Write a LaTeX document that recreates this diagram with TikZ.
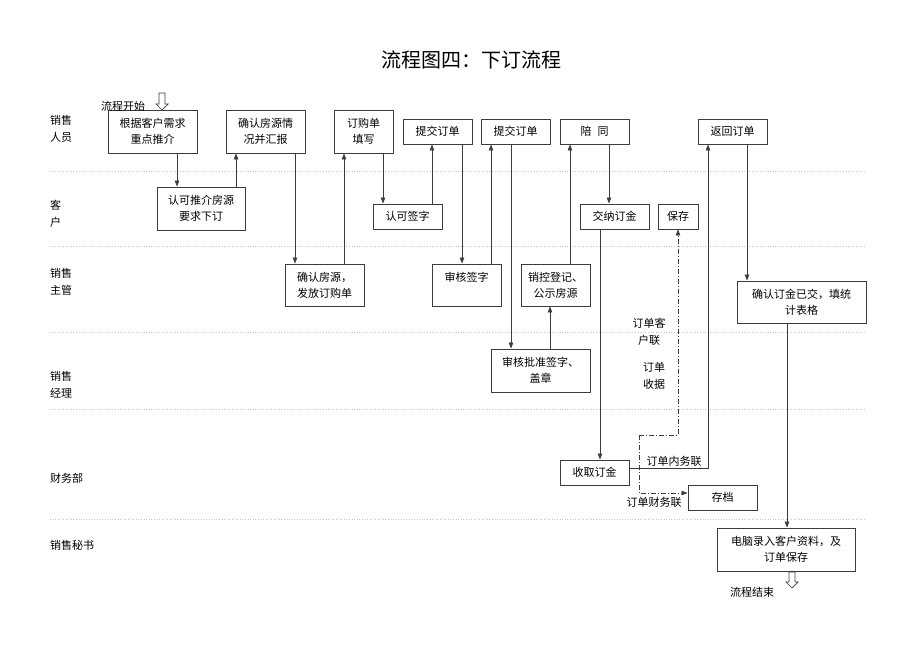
\documentclass[tikz,border=0pt]{standalone}
\usepackage{fontspec}
\setmainfont{Noto Sans CJK SC}
\usetikzlibrary{arrows.meta}
\definecolor{BoxGray}{RGB}{60,60,60}
\definecolor{LaneGray}{RGB}{200,200,200}
\tikzstyle{box} = [rectangle, draw=BoxGray, line width=0.9pt, inner sep=1pt, align=center, font=\fontsize{11}{16}\selectfont]
\tikzstyle{arrow} = [draw=BoxGray, line width=0.7pt, -{Triangle[length=6pt,width=4.5pt]}]
\tikzstyle{copyline} = [arrow, dash pattern=on 5pt off 2pt on 1pt off 2pt]
\tikzstyle{lane} = [draw=LaneGray, line width=0.6pt, dotted]
\tikzstyle{note} = [inner sep=0pt, align=center, font=\fontsize{11}{17}\selectfont]
\tikzstyle{hollow} = [draw=BoxGray, line width=0.7pt, fill=white]

\begin{document}
\begin{tikzpicture}[x=1pt, y=-1pt]
\useasboundingbox (0,0) rectangle (920,651);

% Titre
\node (title) at (471,60) [font=\fontsize{20}{24}\selectfont] {流程图四：下订流程};

% Couloirs
\draw [lane] (50,171) -- (866,171);
\draw [lane] (50,246) -- (866,246);
\draw [lane] (50,332) -- (866,332);
\draw [lane] (50,409) -- (866,409);
\draw [lane] (50,519) -- (866,519);

\node (xiaoshou) [note, anchor=west, align=left] at (50,128.5) {销售\\人员};
\node (kehu) [note, anchor=west, align=left] at (50,214) {客\\户};
\node (zhuguan) [note, anchor=west, align=left] at (50,281.5) {销售\\主管};
\node (jingli) [note, anchor=west, align=left] at (50,384.5) {销售\\经理};
\node (caiwubu) [note, anchor=west] at (50,478) {财务部};
\node (mishu) [note, anchor=west] at (50,545) {销售秘书};

% Etapes
\node (tuijie) [box, minimum width=89, minimum height=43] at (152.5,131.5) {根据客户需求\\重点推介};
\node (huibao) [box, minimum width=79, minimum height=43] at (265.5,131.5) {确认房源情\\况并汇报};
\node (tianxie) [box, minimum width=59, minimum height=43] at (363.5,131.5) {订购单\\填写};
\node (tijiaoA) [box, minimum width=69, minimum height=25] at (437.5,131.5) {提交订单};
\node (tijiaoB) [box, minimum width=69, minimum height=25] at (515.5,131.5) {提交订单};
\node (peitong) [box, minimum width=69, minimum height=25] at (594.5,131.5) {陪\hspace{6pt}同};
\node (fanhui) [box, minimum width=69, minimum height=25] at (732.5,131.5) {返回订单};

\node (rending) [box, minimum width=88, minimum height=43] at (201,208.5) {认可推介房源\\要求下订};
\node (qianzi) [box, minimum width=69, minimum height=25] at (407.5,216.5) {认可签字};
\node (jiaona) [box, minimum width=69, minimum height=25] at (614.5,216.5) {交纳订金};
\node (baocun) [box, minimum width=40, minimum height=25] at (678,216.5) {保存};

\node (fafang) [box, minimum width=79, minimum height=42] at (324.5,285) {确认房源，\\发放订购单};
\node (shenhe) [box, minimum width=69, minimum height=42] at (466.5,285) {审核签字\\\mbox{}};
\node (xiaokong) [box, minimum width=69, minimum height=42] at (555.5,285) {销控登记、\\公示房源};
\node (tongji) [box, minimum width=129, minimum height=42] at (801.5,302) {确认订金已交，填统\\计表格};

\node (pizhun) [box, minimum width=99, minimum height=43] at (540.5,370.5) {审核批准签字、\\盖章};

\node (shouqu) [box, minimum width=69, minimum height=25] at (594.5,472.5) {收取订金};
\node (cundang) [box, minimum width=69, minimum height=25] at (722.5,497.5) {存档};

\node (luru) [box, minimum width=138, minimum height=43] at (786,549.5) {电脑录入客户资料，及\\订单保存};

% Debut et fin
\node (start) [note] at (123,106) {流程开始};
\node (end) [note] at (752,592) {流程结束};
\coordinate (debut) at (162,93);
\coordinate (fin) at (792,572);
\draw [hollow] (debut) ++(-3,0) -- ++(6,0) -- ++(0,11) -- ++(3,0) -- ++(-6,6) -- ++(-6,-6) -- ++(3,0) -- cycle;
\draw [hollow] (fin) ++(-3,0) -- ++(6,0) -- ++(0,10) -- ++(3,0) -- ++(-6,6) -- ++(-6,-6) -- ++(3,0) -- cycle;

% Relations
\draw [arrow] (177,0 |- tuijie.south) -- (177,0 |- rending.north);
\draw [arrow] (236,0 |- rending.north) -- (236,0 |- huibao.south);
\draw [arrow] (295,0 |- huibao.south) -- (295,0 |- fafang.north);
\draw [arrow] (344,0 |- fafang.north) -- (344,0 |- tianxie.south);
\draw [arrow] (383,0 |- tianxie.south) -- (383,0 |- qianzi.north);
\draw [arrow] (432,0 |- qianzi.north) -- (432,0 |- tijiaoA.south);
\draw [arrow] (462,0 |- tijiaoA.south) -- (462,0 |- shenhe.north);
\draw [arrow] (491,0 |- shenhe.north) -- (491,0 |- tijiaoB.south);
\draw [arrow] (511,0 |- tijiaoB.south) -- (511,0 |- pizhun.north);
\draw [arrow] (550,0 |- pizhun.north) -- (550,0 |- xiaokong.south);
\draw [arrow] (570,0 |- xiaokong.north) -- (570,0 |- peitong.south);
\draw [arrow] (609,0 |- peitong.south) -- (609,0 |- jiaona.north);
\draw [arrow] (600,0 |- jiaona.south) -- (600,0 |- shouqu.north);
\draw [arrow] (shouqu.east |- 0,468) -- (708,468) -- (708,0 |- fanhui.south);
\draw [arrow] (747,0 |- fanhui.south) -- (747,0 |- tongji.north);
\draw [arrow] (787,0 |- tongji.south) -- (787,0 |- luru.north);

% Copies du bon
\coordinate (fen) at (639,435);
\draw [copyline] (fen) -- (678,435) -- (baocun.south);
\draw [copyline] (fen) -- (639,493) -- (cundang.west |- 0,493);

\node (kehulian) [note] at (649,332) {订单客\\户联};
\node (shouju) [note] at (654,375.5) {订单\\收据};
\node (neiwu) [note] at (674,461) {订单内务联};
\node (caiwu) [note] at (654,502) {订单财务联};

\end{tikzpicture}
\end{document}
